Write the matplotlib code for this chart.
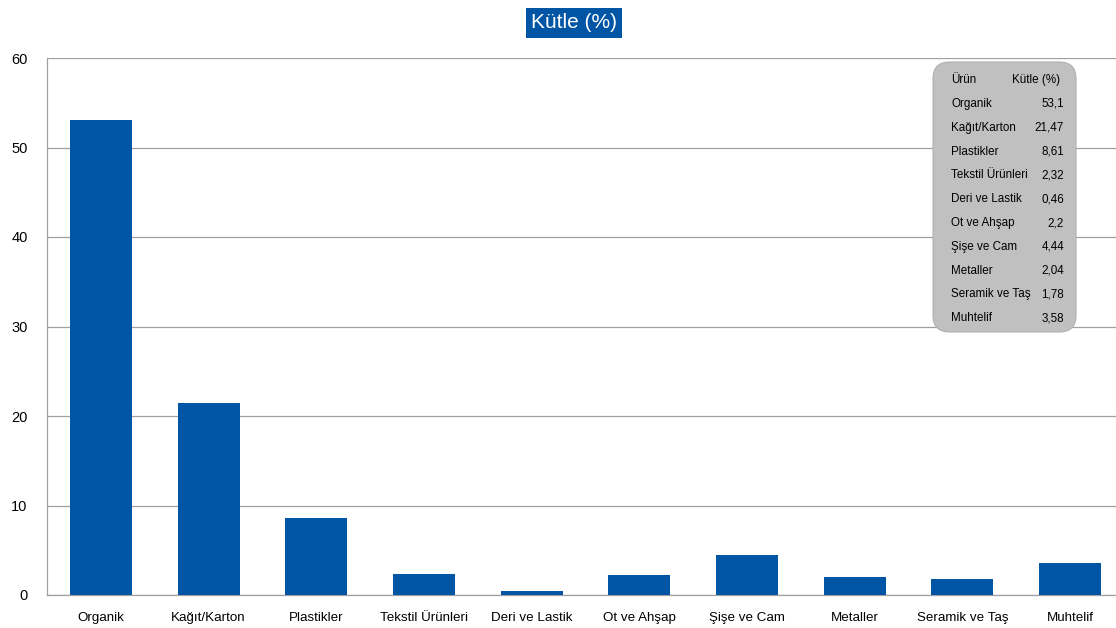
import matplotlib
matplotlib.use("Agg")
import matplotlib.pyplot as plt
from matplotlib.patches import FancyBboxPatch

plt.rcParams["font.family"] = ["Liberation Sans", "DejaVu Sans"]

categories = ["Organik", "Kağıt/Karton", "Plastikler", "Tekstil Ürünleri", "Deri ve Lastik",
              "Ot ve Ahşap", "Şişe ve Cam", "Metaller", "Seramik ve Taş", "Muhtelif"]
values = [53.1, 21.47, 8.61, 2.32, 0.46, 2.2, 4.44, 2.04, 1.78, 3.58]
value_labels = ["53,1", "21,47", "8,61", "2,32", "0,46", "2,2", "4,44", "2,04", "1,78", "3,58"]

W, H = 1116, 628
fig = plt.figure(figsize=(W / 100, H / 100), dpi=100)

# plot area in pixels: left 47, right ~1124 (runs past the edge), top 58, bottom 595
left, right, top, bottom = 47, 1124, 58, 595
ax = fig.add_axes([left / W, 1 - bottom / H, (right - left) / W, (bottom - top) / H])

bar_color = "#0055A5"
x = range(len(categories))
ax.bar(x, values, width=0.575, color=bar_color, zorder=3)
ax.set_xlim(-0.5, len(categories) - 0.5)
ax.set_ylim(0, 60)
ax.set_yticks(range(0, 61, 10))
ax.set_xticks(list(x))
ax.set_xticklabels(categories, fontsize=9.6)
ax.tick_params(axis="y", length=0, pad=14, labelsize=10.5)
ax.tick_params(axis="x", length=0, pad=12)
ax.grid(axis="y", color="#A0A0A0", linewidth=0.9, zorder=0)
for side in ["top", "right"]:
    ax.spines[side].set_visible(False)
for side in ["left", "bottom"]:
    ax.spines[side].set_color("#A0A0A0")
    ax.spines[side].set_linewidth(0.9)

# title box
fig.text(574 / W, 1 - 23 / H, "Kütle (%)", ha="center", va="center", color="white",
         fontsize=15,
         bbox=dict(boxstyle="square,pad=0.25", facecolor=bar_color, edgecolor="none"))

# data table box
bx0, by0, bx1, by1 = 933, 62, 1076, 332
box = FancyBboxPatch((bx0 / W, 1 - by1 / H), (bx1 - bx0) / W, (by1 - by0) / H,
                     boxstyle="round,pad=0,rounding_size=0.015",
                     transform=fig.transFigure, facecolor="#C0C0C0",
                     edgecolor="#B0B0B0", linewidth=0.8, zorder=5, mutation_aspect=W / H)
fig.add_artist(box)

fs = 8.4
fig.text(951 / W, 1 - 80 / H, "Ürün", ha="left", va="center", fontsize=fs, zorder=6)
fig.text(1060 / W, 1 - 80 / H, "Kütle (%)", ha="right", va="center", fontsize=fs, zorder=6)
row_y = 104
for name, val in zip(categories, value_labels):
    fig.text(951 / W, 1 - row_y / H, name, ha="left", va="center", fontsize=fs, zorder=6)
    fig.text(1064 / W, 1 - row_y / H, val, ha="right", va="center", fontsize=fs, zorder=6)
    row_y += 23.8

fig.savefig("out.png", dpi=100)
